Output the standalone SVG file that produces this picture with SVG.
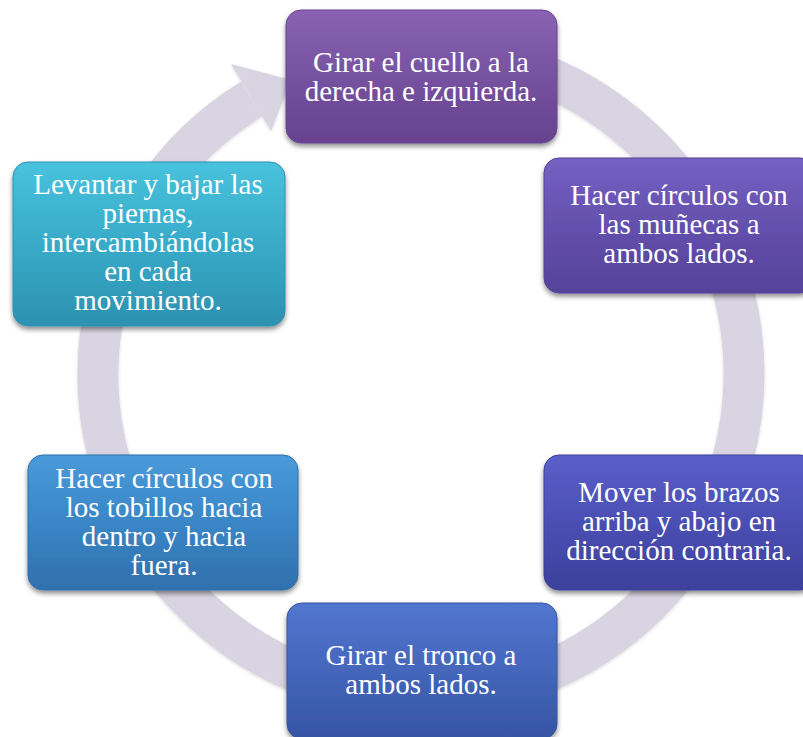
<svg xmlns="http://www.w3.org/2000/svg" width="803" height="737" viewBox="0 0 803 737">
<defs>
<style>
.box{stroke-width:1;filter:url(#sh)}
.t{font-family:"Liberation Serif","Times New Roman",serif;font-size:29px;fill:#ffffff;text-anchor:middle}
.ring{fill:none;stroke:#d8d4e2;stroke-width:41}
</style>
<filter id="sh" x="-10%" y="-10%" width="120%" height="130%">
<feDropShadow dx="0" dy="3" stdDeviation="2.5" flood-color="#000" flood-opacity="0.45"/>
</filter>
<filter id="rsh" x="-10%" y="-10%" width="120%" height="120%">
<feDropShadow dx="0" dy="1" stdDeviation="1.5" flood-color="#000" flood-opacity="0.15"/>
</filter>
<linearGradient id="g1" x1="0" y1="0" x2="0" y2="1"><stop offset="0" stop-color="#8a62b3"/><stop offset="0.5" stop-color="#7652a0"/><stop offset="1" stop-color="#66428f"/></linearGradient>
<linearGradient id="g2" x1="0" y1="0" x2="0" y2="1"><stop offset="0" stop-color="#7461c2"/><stop offset="0.5" stop-color="#6450ad"/><stop offset="1" stop-color="#54439a"/></linearGradient>
<linearGradient id="g3" x1="0" y1="0" x2="0" y2="1"><stop offset="0" stop-color="#5a5fc8"/><stop offset="0.5" stop-color="#4a4fb3"/><stop offset="1" stop-color="#3c409c"/></linearGradient>
<linearGradient id="g4" x1="0" y1="0" x2="0" y2="1"><stop offset="0" stop-color="#5176cf"/><stop offset="0.5" stop-color="#4466bb"/><stop offset="1" stop-color="#3654a2"/></linearGradient>
<linearGradient id="g5" x1="0" y1="0" x2="0" y2="1"><stop offset="0" stop-color="#4a9ad8"/><stop offset="0.5" stop-color="#3a86c6"/><stop offset="1" stop-color="#2f70ac"/></linearGradient>
<linearGradient id="g6" x1="0" y1="0" x2="0" y2="1"><stop offset="0" stop-color="#48c2dd"/><stop offset="0.5" stop-color="#38abc9"/><stop offset="1" stop-color="#2d91b0"/></linearGradient>
</defs>
<rect width="803" height="737" fill="#ffffff"/>
<g id="connectors" filter="url(#rsh)">
<path class="ring" d="M 504.6 62 A 323 323 0 1 1 251.7 98.9"/>
<polygon points="231,64 291,80 271,131" fill="#d8d4e2"/>
</g>
<g id="n1">
<rect class="box" x="286" y="10" width="271" height="133" rx="15" fill="url(#g1)" stroke="#6a4592"/>
<text class="t" x="421" y="72">Girar el cuello a la</text>
<text class="t" x="421" y="101">derecha e izquierda.</text>
</g>
<g id="n2">
<rect class="box" x="544" y="158" width="271" height="135" rx="15" fill="url(#g2)" stroke="#54439a"/>
<text class="t" x="679" y="205">Hacer círculos con</text>
<text class="t" x="679" y="234">las muñecas a</text>
<text class="t" x="679" y="263">ambos lados.</text>
</g>
<g id="n3">
<rect class="box" x="544" y="455" width="271" height="135" rx="15" fill="url(#g3)" stroke="#3c409c"/>
<text class="t" x="679" y="502">Mover los brazos</text>
<text class="t" x="679" y="531">arriba y abajo en</text>
<text class="t" x="679" y="560">dirección contraria.</text>
</g>
<g id="n4">
<rect class="box" x="287" y="603" width="270" height="136" rx="15" fill="url(#g4)" stroke="#3654a2"/>
<text class="t" x="421" y="665">Girar el tronco a</text>
<text class="t" x="421" y="694">ambos lados.</text>
</g>
<g id="n5">
<rect class="box" x="28" y="455" width="270" height="135" rx="15" fill="url(#g5)" stroke="#2f70ac"/>
<text class="t" x="164" y="488">Hacer círculos con</text>
<text class="t" x="164" y="517">los tobillos hacia</text>
<text class="t" x="164" y="546">dentro y hacia</text>
<text class="t" x="164" y="575">fuera.</text>
</g>
<g id="n6">
<rect class="box" x="13" y="162" width="272" height="164" rx="15" fill="url(#g6)" stroke="#2d91b0"/>
<text class="t" x="148" y="194">Levantar y bajar las</text>
<text class="t" x="148" y="223">piernas,</text>
<text class="t" x="148" y="252">intercambiándolas</text>
<text class="t" x="148" y="281">en cada</text>
<text class="t" x="148" y="310">movimiento.</text>
</g>
</svg>
